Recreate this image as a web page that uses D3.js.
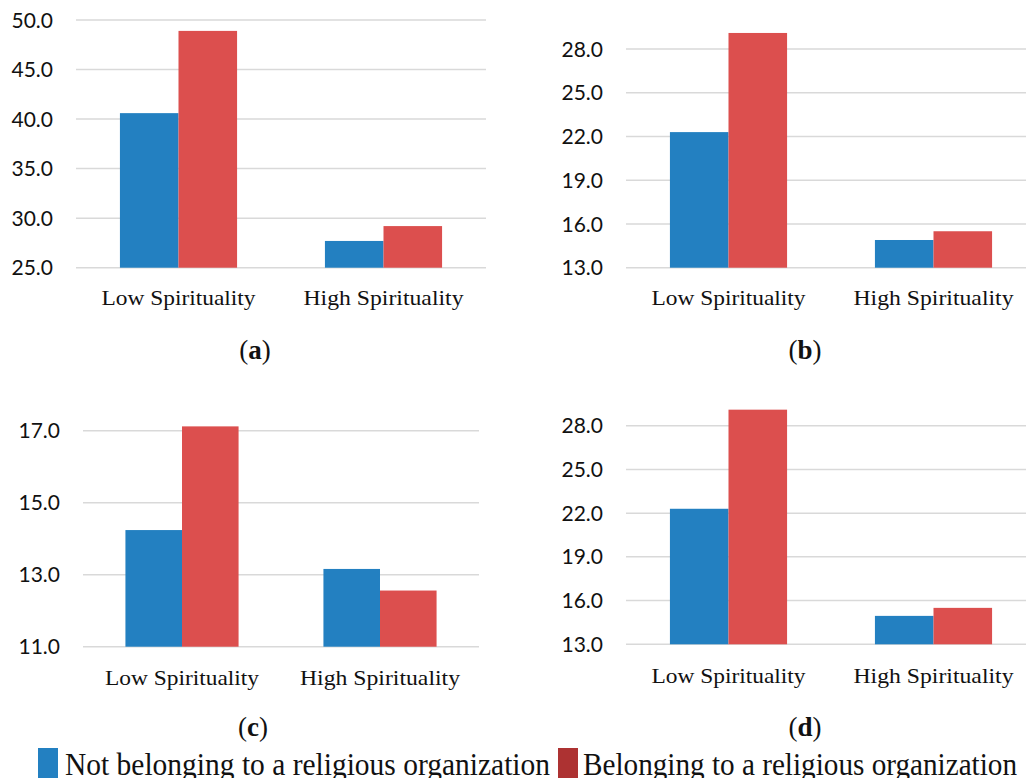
<!DOCTYPE html>
<html>
<head>
<meta charset="utf-8">
<script src="https://cdn.jsdelivr.net/npm/d3@7"></script>
<style>
  body { margin: 0; background: #fff; }
  svg { display: block; }
</style>
</head>
<body>
<svg id="chart" width="1026" height="778"></svg>
<script>
const categories = ["Low Spirituality", "High Spirituality"];
const series = ["Not belonging to a religious organization", "Belonging to a religious organization"];

// values per panel: [Low, High]
const notBelongingA = [40.6, 27.7];
const belongingA = [48.9, 29.2];
const notBelongingB = [22.3, 14.9];
const belongingB = [29.1, 15.5];
const notBelongingC = [14.24, 13.16];
const belongingC = [17.12, 12.56];
const notBelongingD = [22.3, 14.95];
const belongingD = [29.1, 15.5];

const ticksA = [25, 30, 35, 40, 45, 50];
const ticksB = [13, 16, 19, 22, 25, 28];
const ticksC = [11, 13, 15, 17];
const ticksD = [13, 16, 19, 22, 25, 28];

const captions = ["a", "b", "c", "d"];

const barColors = ["#2380c1", "#dc4f4e"];
const legendColors = ["#2380c1", "#ad3232"];

const svg = d3.select("#chart");

const panels = [
  { nb: notBelongingA, b: belongingA, ticks: ticksA, cap: captions[0],
    x: [76, 486], y: [267.7, 20], labelX: 53, catY: 305, capX: 255, capY: 359 },
  { nb: notBelongingB, b: belongingB, ticks: ticksB, cap: captions[1],
    x: [626, 1036], y: [267.7, 49], labelX: 603, catY: 305, capX: 805, capY: 359 },
  { nb: notBelongingC, b: belongingC, ticks: ticksC, cap: captions[2],
    x: [83, 479], y: [646.7, 430.7], labelX: 60, catY: 685, capX: 253, capY: 736 },
  { nb: notBelongingD, b: belongingD, ticks: ticksD, cap: captions[3],
    x: [626, 1036], y: [644.3, 425.7], labelX: 603, catY: 683, capX: 805, capY: 736 }
];

// rendered widths of the category labels in the reference
const catWidths = { "Low Spirituality": 154, "High Spirituality": 160 };

panels.forEach(p => {
  const g = svg.append("g");

  const x0 = d3.scaleBand().domain(categories).range(p.x).padding(0);
  const x1 = d3.scaleBand().domain(series).range([0, x0.bandwidth()])
    .paddingInner(0).paddingOuter(0.75);
  const y = d3.scaleLinear()
    .domain([p.ticks[0], p.ticks[p.ticks.length - 1]])
    .range(p.y);

  // gridlines
  g.selectAll(".grid")
    .data(p.ticks)
    .join("line")
      .attr("x1", p.x[0])
      .attr("x2", p.x[1])
      .attr("y1", d => y(d))
      .attr("y2", d => y(d))
      .attr("stroke", "#d9d9d9")
      .attr("stroke-width", 1.5);

  // y tick labels
  g.selectAll(".ylab")
    .data(p.ticks)
    .join("text")
      .attr("x", p.labelX)
      .attr("y", d => y(d))
      .attr("dy", "0.36em")
      .attr("text-anchor", "end")
      .attr("font-family", "Lato, 'Open Sans', sans-serif")
      .attr("font-size", 21)
      .attr("fill", "#111")
      .text(d => d3.format(".1f")(d));

  const rows = categories.map((c, i) => ({ cat: c, vals: [p.nb[i], p.b[i]] }));

  const grp = g.selectAll(".cat")
    .data(rows)
    .join("g")
      .attr("transform", d => `translate(${x0(d.cat)},0)`);

  grp.selectAll("rect")
    .data(d => d.vals.map((v, j) => ({ s: series[j], v, j })))
    .join("rect")
      .attr("x", d => x1(d.s))
      .attr("width", x1.bandwidth())
      .attr("y", d => y(d.v))
      .attr("height", d => y(p.ticks[0]) - y(d.v))
      .attr("fill", d => barColors[d.j]);

  // category labels
  g.selectAll(".xlab")
    .data(categories)
    .join("text")
      .attr("x", d => x0(d) + x0.bandwidth() / 2)
      .attr("y", p.catY)
      .attr("text-anchor", "middle")
      .attr("font-family", "'Liberation Serif', serif")
      .attr("font-size", 22)
      .attr("fill", "#111")
      .attr("textLength", d => catWidths[d])
      .attr("lengthAdjust", "spacingAndGlyphs")
      .text(d => d);

  // caption
  const cap = g.append("text")
    .attr("x", p.capX)
    .attr("y", p.capY)
    .attr("text-anchor", "middle")
    .attr("font-family", "'Liberation Serif', serif")
    .attr("font-size", 27)
    .attr("fill", "#111");
  cap.append("tspan").text("(");
  cap.append("tspan").attr("font-weight", "bold").text(p.cap);
  cap.append("tspan").text(")");
});

// legend
const legendItems = [
  { name: series[0], sx: 38, tx: 65, len: 485 },
  { name: series[1], sx: 558, tx: 583, len: 434 }
];

const leg = svg.append("g");
legendItems.forEach((d, i) => {
  leg.append("rect")
    .attr("x", d.sx)
    .attr("y", 748)
    .attr("width", 20)
    .attr("height", 30)
    .attr("fill", legendColors[i]);
  leg.append("text")
    .attr("x", d.tx)
    .attr("y", 775)
    .attr("font-family", "'Liberation Serif', serif")
    .attr("font-size", 32)
    .attr("fill", "#111")
    .attr("textLength", d.len)
    .attr("lengthAdjust", "spacingAndGlyphs")
    .text(d.name);
});
</script>
</body>
</html>
